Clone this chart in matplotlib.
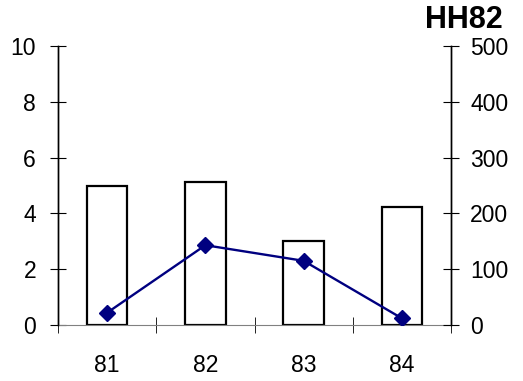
import numpy as np
import matplotlib.pyplot as plt

plt.rcParams['font.family'] = ['Liberation Sans', 'DejaVu Sans']

categories = ['81', '82', '83', '84']
bar_values = [5.0, 5.14, 3.0, 4.23]
line_values = [22, 143, 115, 12]
title = 'HH82'

fig = plt.figure(figsize=(5.23, 3.81), dpi=100)
ax = fig.add_axes([58/523, 1-325/381, (451-58)/523, (325-46)/381])
ax2 = ax.twinx()

x = np.arange(len(categories))
ax.bar(x, bar_values, width=0.41, facecolor='white', edgecolor='black', linewidth=1.6, zorder=2)
ax2.plot(x, line_values, color='#000080', linewidth=1.7, marker='D', markersize=8.5, zorder=3)

ax.set_xlim(-0.5, len(categories) - 0.5)
ax.set_ylim(0, 10)
ax2.set_ylim(0, 500)
ax.set_yticks(np.arange(0, 11, 2))
ax2.set_yticks(np.arange(0, 501, 100))

ax.set_xticks(x)
ax.set_xticklabels(categories)
ax.set_xticks(np.arange(-0.5, len(categories), 1), minor=True)
ax.tick_params(axis='x', which='major', length=0, pad=21, labelsize=16.5)
ax.tick_params(axis='x', which='minor', direction='inout', length=11)
ax.tick_params(axis='y', direction='inout', length=11.5, pad=10, labelsize=16.5)
ax2.tick_params(axis='y', direction='inout', length=11.5, pad=8, labelsize=16.5)

for a in (ax, ax2):
    a.spines['top'].set_visible(False)
    a.spines['left'].set_linewidth(1)
    a.spines['right'].set_linewidth(1)
ax.spines['bottom'].set_color('#808080')
ax2.spines['bottom'].set_visible(False)

fig.text(503/523, 1-20/381, title, ha='right', va='center', fontsize=22, fontweight='bold')

fig.savefig('out.png', dpi=100)
